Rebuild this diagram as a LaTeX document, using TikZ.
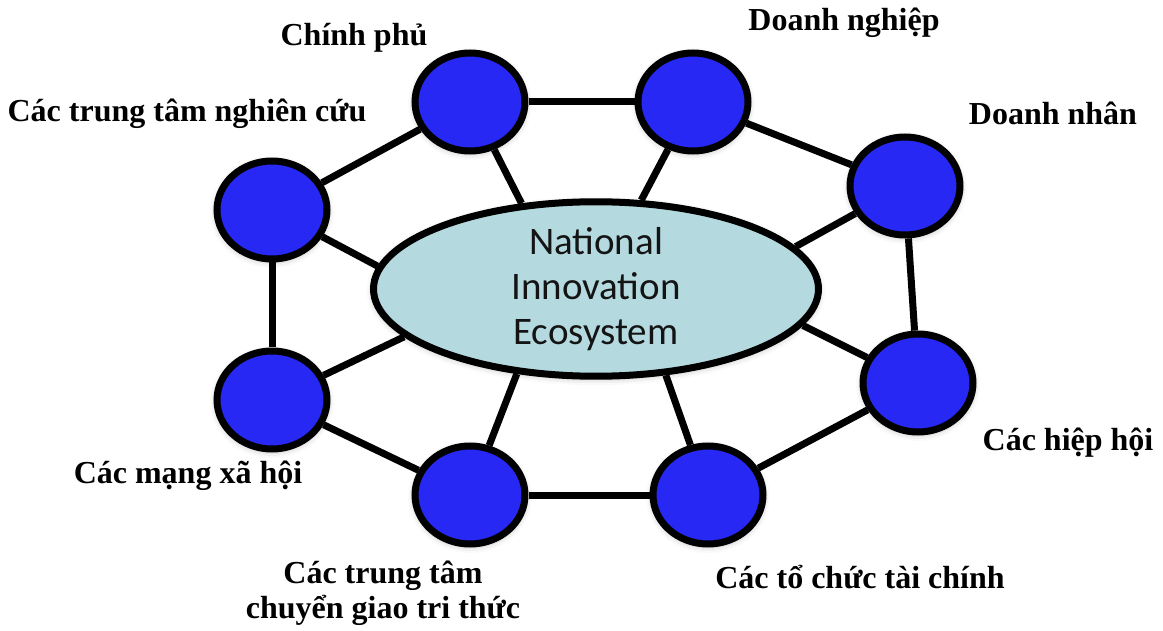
\documentclass[tikz,border=0pt]{standalone}
\usepackage{fontspec}
\setmainfont{Liberation Serif}
\newfontfamily\corefont{Carlito}
\usetikzlibrary{shapes.geometric,shadows.blur,backgrounds}

\definecolor{actorblue}{RGB}{40,40,245}
\definecolor{corecyan}{RGB}{180,218,224}
\definecolor{coretext}{RGB}{20,20,20}

\tikzset{
  actor/.style={ellipse, draw=black, line width=7pt, fill=actorblue,
    minimum width=110pt, minimum height=98pt, inner sep=0pt,
    blur shadow={shadow xshift=0pt, shadow yshift=-2pt, shadow blur radius=7pt, shadow opacity=30}},
  core/.style={ellipse, draw=black, line width=7pt, fill=corecyan,
    minimum width=445pt, minimum height=156pt, inner sep=0pt, align=center,
    text=coretext, font=\corefont\fontsize{39}{45}\selectfont,
    blur shadow={shadow xshift=0pt, shadow yshift=-2pt, shadow blur radius=7pt, shadow opacity=30}},
  actorname/.style={font=\bfseries\fontsize{32}{35}\selectfont, anchor=base, align=center},
  link/.style={line width=7pt}
}

\begin{document}
\begin{tikzpicture}[x=1pt, y=-1pt]
  \useasboundingbox (0,0) rectangle (1163,631);

  % Draw the core
  \node[core] (nie) at (596,289) {National\\Innovation\\Ecosystem};

  % Draw the actors
  \node[actor] (govt) at (470,102) {};
  \node[actor] (biz) at (693,102) {};
  \node[actor] (entre) at (905,186) {};
  \node[actor] (assoc) at (918,383) {};
  \node[actor] (fin) at (708,495) {};
  \node[actor] (transfer) at (470,495) {};
  \node[actor] (social) at (272,400) {};
  \node[actor] (research) at (272,210) {};

  % Draw the links
  \begin{pgfonlayer}{background}
    \foreach \a/\b in {research/govt, govt/biz, biz/entre, entre/assoc,
                       assoc/fin, fin/transfer, transfer/social, social/research}
      \draw[link] (\a) -- (\b);
    \foreach \n/\ang in {govt/131, biz/63, entre/12, assoc/350,
                         fin/309, transfer/227, social/194, research/174}
      \draw[link] (\n) -- (nie.\ang);
  \end{pgfonlayer}

  % Label the actors
  \node[actorname] (govtname) at (354,46) {Chính phủ};
  \node[actorname] (bizname) at (844,31) {Doanh nghiệp};
  \node[actorname] (researchname) at (187,122) {Các trung tâm nghiên cứu};
  \node[actorname] (entrename) at (1053,125) {Doanh nhân};
  \node[actorname] (assocname) at (1068,450) {Các hiệp hội};
  \node[actorname] (socialname) at (188,483) {Các mạng xã hội};
  \node[actorname] (transfername) at (383,618) {Các trung tâm\\chuyển giao tri thức};
  \node[actorname] (finname) at (860,588) {Các tổ chức tài chính};
\end{tikzpicture}
\end{document}
